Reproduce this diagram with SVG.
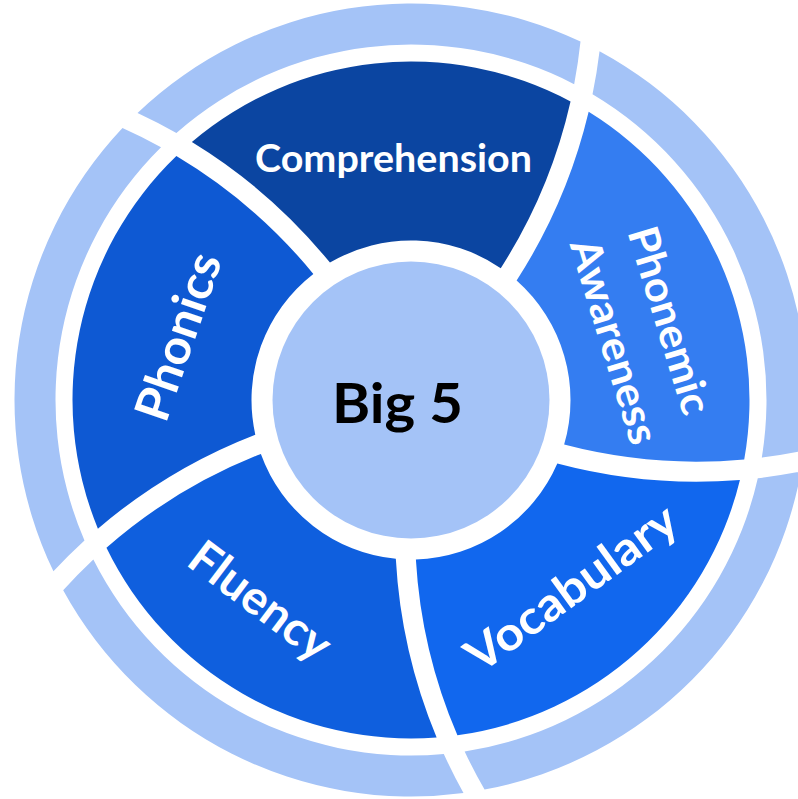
<svg xmlns="http://www.w3.org/2000/svg" xmlns:xlink="http://www.w3.org/1999/xlink" width="798" height="799" viewBox="0 0 798 799">
<style>
.lbl{font-family:Lato,"Open Sans","Liberation Sans",sans-serif;font-weight:700;fill:#FFFFFF;text-anchor:middle}
.ring{fill:#A4C3F7}
</style>
<defs>
<path id="seg" d="M 395.82 558.78 A 543 543 0 0 0 436.63 737.53 A 338.5 338.5 0 0 1 106.45 547.75 A 523 523 0 0 1 260.89 453.91 A 159.5 159.5 0 0 0 395.82 558.78 Z"/>
<path id="ring" d="M 443.80 753.98 A 543 543 0 0 0 463.49 793.01 A 396.5 396.5 0 0 1 63.18 590.36 A 523 523 0 0 1 93.35 559.62 A 355.5 355.5 0 0 0 443.80 753.98 Z"/>
</defs>
<rect width="798" height="799" fill="#FFFFFF"/>
<g id="node-fluency">
<use href="#ring" xlink:href="#ring" class="ring"/>
<use href="#seg" xlink:href="#seg" fill="#0F5FDE"/>
<text class="lbl" font-size="47" transform="translate(250.7,613.8) rotate(37)" textLength="165" lengthAdjust="spacingAndGlyphs">Fluency</text>
</g>
<g id="node-phonics">
<use href="#ring" xlink:href="#ring" class="ring" transform="rotate(72 411 400)"/>
<use href="#seg" xlink:href="#seg" fill="#0E59D3" transform="rotate(72 411 400)"/>
<text class="lbl" font-size="48" transform="translate(194,342) rotate(-71)" textLength="174" lengthAdjust="spacingAndGlyphs">Phonics</text>
</g>
<g id="node-comprehension">
<use href="#ring" xlink:href="#ring" class="ring" transform="rotate(144 411 400)"/>
<use href="#seg" xlink:href="#seg" fill="#0B45A1" transform="rotate(144 411 400)"/>
<text class="lbl" font-size="39" x="393.5" y="172" textLength="277" lengthAdjust="spacingAndGlyphs">Comprehension</text>
</g>
<g id="node-phonemic-awareness">
<use href="#ring" xlink:href="#ring" class="ring" transform="rotate(216 411 400)"/>
<use href="#seg" xlink:href="#seg" fill="#347DF1" transform="rotate(216 411 400)"/>
<text class="lbl" font-size="42" transform="translate(655.5,324.7) rotate(73)" textLength="194" lengthAdjust="spacingAndGlyphs">Phonemic</text>
<text class="lbl" font-size="42" transform="translate(600.5,345.7) rotate(73)" textLength="212" lengthAdjust="spacingAndGlyphs">Awareness</text>
</g>
<g id="node-vocabulary">
<use href="#ring" xlink:href="#ring" class="ring" transform="rotate(288 411 400)"/>
<use href="#seg" xlink:href="#seg" fill="#1167EE" transform="rotate(288 411 400)"/>
<text class="lbl" font-size="47" transform="translate(581,601) rotate(-36)" textLength="249" lengthAdjust="spacingAndGlyphs">Vocabulary</text>
</g>
<g id="node-big5">
<circle cx="411" cy="400" r="138.5" fill="#A4C3F7"/>
<text class="lbl" font-size="56" x="397.5" y="423" textLength="131" lengthAdjust="spacingAndGlyphs" style="fill:#000000">Big 5</text>
</g>
</svg>
